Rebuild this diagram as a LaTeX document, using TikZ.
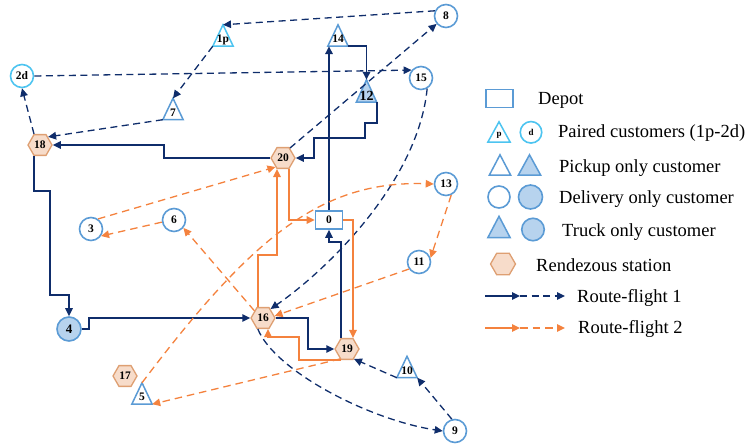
\documentclass[tikz,border=0pt]{standalone}
\usepackage{fontspec}
\setmainfont{Liberation Serif}
\usetikzlibrary{arrows.meta,shapes.geometric}

\definecolor{navy}{HTML}{0F2D6B}
\definecolor{orng}{HTML}{F4823E}
\definecolor{cblue}{HTML}{5B9BD5}
\definecolor{cpair}{HTML}{4DC4F0}
\definecolor{cfill}{HTML}{B7D3EE}
\definecolor{hexfill}{HTML}{F7DCCA}
\definecolor{hexedge}{HTML}{DE9F72}

\pgfdeclarelayer{bg}
\pgfsetlayers{bg,main}

% triangle drawn inside the box of a tribox node
\newcommand{\tridraw}[2]{\filldraw[#2] (#1.south west) -- (#1.south east) -- (#1.north) -- cycle;}

\tikzset{
  lbl/.style={font=\bfseries\fontsize{11.5}{11.5}\selectfont, inner sep=0pt},
  cust/.style={circle, draw=cblue, line width=1.6pt, fill=white, minimum size=23pt, inner sep=0pt, lbl},
  custpair/.style={cust, draw=cpair},
  custfull/.style={cust, fill=cfill},
  hexa/.style={regular polygon, regular polygon sides=6, minimum size=24pt, inner sep=0pt,
    draw=hexedge, fill=hexfill, line width=1.3pt, lbl},
  tribox/.style={rectangle, minimum width=20pt, minimum height=21pt, inner sep=0pt,
    text height=14.5pt, text depth=0pt, lbl},
  triopen/.style={draw=cblue, fill=white, line width=1.5pt},
  tripair/.style={draw=cpair, fill=white, line width=1.5pt},
  trifull/.style={draw=cblue, fill=cfill, line width=1.5pt},
  depot/.style={rectangle, draw=cblue, line width=1.6pt, fill=white, minimum width=27pt,
    minimum height=18pt, inner sep=0pt, lbl},
  legtxt/.style={font=\fontsize{18.5}{20}\selectfont, inner sep=0pt, anchor=base west},
  tip/.style={-{Triangle[length=8pt,width=7.5pt]}},
  r1/.style={draw=navy, line width=1.6pt, tip},
  r1d/.style={draw=navy, line width=1.3pt, dash pattern=on 7pt off 4.5pt, tip},
  r2/.style={draw=orng, line width=1.6pt, tip},
  r2d/.style={draw=orng, line width=1.3pt, dash pattern=on 7.5pt off 5pt, tip},
}

\begin{document}
\begin{tikzpicture}[x=1pt,y=-1pt]
\useasboundingbox (0,0) rectangle (750,444);

% ---- customers with triangle marks
\node[tribox] (n1p) at (223,35.5) {1p};
\node[tribox] (n14) at (338,35.5) {14};
\node[tribox, minimum height=22pt, text height=18pt, font=\bfseries\fontsize{14}{14}\selectfont] (n12) at (366.5,91) {12};
\node[tribox] (n7) at (173,109) {7};
\node[tribox] (n10) at (407,367) {10};
\node[tribox] (n5) at (142,393.5) {5};

% ---- customers with circle marks
\node[custpair] (n2d) at (22,76) {2d};
\node[cust] (n8) at (446,16) {8};
\node[cust] (n15) at (421,78) {15};
\node[cust] (n13) at (446,184) {13};
\node[cust] (n11) at (419,262) {11};
\node[cust] (n3) at (91,229) {3};
\node[cust] (n6) at (174,220) {6};
\node[cust] (n9) at (455,431) {9};
\node[custfull, minimum size=24pt, font=\bfseries\fontsize{13}{13}\selectfont] (n4) at (69,329) {4};

% ---- rendezvous stations and depot
\node[hexa] (n18) at (40,145) {18};
\node[hexa] (n20) at (283,158) {20};
\node[hexa] (n16) at (263,318) {16};
\node[hexa] (n19) at (347,349) {19};
\node[hexa] (n17) at (125,376) {17};
\node[depot] (n0) at (329,220) {0};

% ---- legend symbols
\node[depot] (lgdep) at (499.5,98.5) {};
\node[tribox, minimum width=22pt, minimum height=20pt, text height=8pt, font=\bfseries\fontsize{9}{9}\selectfont] (lgp) at (499,132) {p};
\node[custpair, minimum size=21.5pt, font=\bfseries\fontsize{9}{9}\selectfont] (lgd) at (531,132.3) {d};
\node[tribox, minimum width=21pt, minimum height=20pt] (lgpk1) at (500,165) {};
\node[tribox, minimum width=22pt, minimum height=20pt] (lgpk2) at (529.5,165) {};
\node[cust, minimum size=22pt] (lgdl1) at (499,197) {};
\node[custfull, minimum size=24pt] (lgdl2) at (530.5,197) {};
\node[tribox, minimum width=22pt, minimum height=21pt] (lgtr1) at (499,227) {};
\node[custfull, minimum size=22.5pt] (lgtr2) at (533,229.5) {};
\node[hexa, minimum size=25pt] (lghex) at (503,264) {};
\coordinate (la1) at (485,296);
\coordinate (lb1) at (520,296);
\coordinate (lc1) at (565,296);
\coordinate (la2) at (485,328);
\coordinate (lb2) at (520,328);
\coordinate (lc2) at (565,328);

% ---- legend texts
\node[legtxt] (tdep) at (538,105) {Depot};
\node[legtxt] (tpair) at (558,137) {Paired customers (1p-2d)};
\node[legtxt] (tpick) at (559,172) {Pickup only customer};
\node[legtxt] (tdel) at (559,203) {Delivery only customer};
\node[legtxt] (ttruck) at (562,236) {Truck only customer};
\node[legtxt] (trv) at (536,271) {Rendezous station};
\node[legtxt] (tr1) at (577,302) {Route-flight 1};
\node[legtxt] (tr2) at (578,333) {Route-flight 2};

% ---- triangle outlines under the labels
\begin{pgfonlayer}{bg}
\tridraw{n1p}{tripair}
\tridraw{n14}{triopen}
\tridraw{n12}{trifull}
\tridraw{n7}{triopen}
\tridraw{n10}{triopen}
\tridraw{n5}{triopen}
\tridraw{lgp}{tripair}
\tridraw{lgpk1}{triopen}
\tridraw{lgpk2}{trifull}
\tridraw{lgtr1}{trifull}
\end{pgfonlayer}

% ---- route 1: truck legs
\draw[r1] (n0.north) -- (n0.north |- n14.south);
\draw[r1] (n14.south east) -| (n12.north);
\draw[r1] (n12.south east) -- ++(0,21) -- ++(-12,0) -- ++(0,15) -| ([xshift=18pt]n20.east) -- (n20.east);
\draw[r1] (n20.west) -- ++(-106,0) |- (n18.east);
\draw[r1] ([xshift=-6pt]n18.south) -- ++(0,35) -- ++(16,0) -- ++(0,104) -| (n4.north);
\draw[r1] (n4.east) -- ++(7,0) |- (n16.west);
\draw[r1] (n16.east) -- ++(32,0) |- (n19.west);
\draw[r1] ([xshift=-6pt]n19.north) -- ++(0,-96) -| (n0.south);

% ---- route 1: drone legs
\draw[r1d] (n20.55) -- (n8.220);
\draw[r1d] (n8.155) -- (n1p.north);
\draw[r1d] (n1p.south west) -- (n7.north);
\draw[r1d] (n7.south west) -- (n18.north east);
\draw[r1d] ([xshift=-6pt]n18.north) -- (n2d.south);
\draw[r1d] (n2d.east) -- (n15.140);
\draw[r1d] (n15.-60) .. controls +(-9,92) and +(58,-40) .. (n16.50);
\draw[r1d] (n16.-115) .. controls +(17,42) and +(-73,-11) .. (n9.west);
\draw[r1d] (n9.105) -- (n10.south east);
\draw[r1d] (n10.south west) -- (n19.-55);

% ---- route 2: truck legs
\draw[r2] ([xshift=-5pt]n16.north) -- ++(0,-52) -| ([xshift=-6pt]n20.south);
\draw[r2] ([xshift=6pt]n20.south) |- (n0.west);
\draw[r2] (n0.east) -| ([xshift=6pt]n19.north);
\draw[r2] ([xshift=-6pt]n19.south) -- ++(-42,0) -- ++(0,-23) -| ([xshift=5pt]n16.south);

% ---- route 2: drone legs
\draw[r2d] (n3.55) -- (n20.-130);
\draw[r2d] (n6.190) -- (n3.-35);
\draw[r2d] (n16.140) -- (n6.-40);
\draw[r2d] (n5.north) .. controls +(108,-143) and +(-114,-4) .. (n13.west);
\draw[r2d] (n13.-65) -- (n11.20);
\draw[r2d] (n11.-145) -- (n16.10);
\draw[r2d] (n19.-125) -- (n5.south east);

% ---- legend arrows
\draw[r1] (la1) -- (lb1);
\draw[r1d] (lb1) -- (lc1);
\draw[r2] (la2) -- (lb2);
\draw[r2d] (lb2) -- (lc2);
\end{tikzpicture}
\end{document}
